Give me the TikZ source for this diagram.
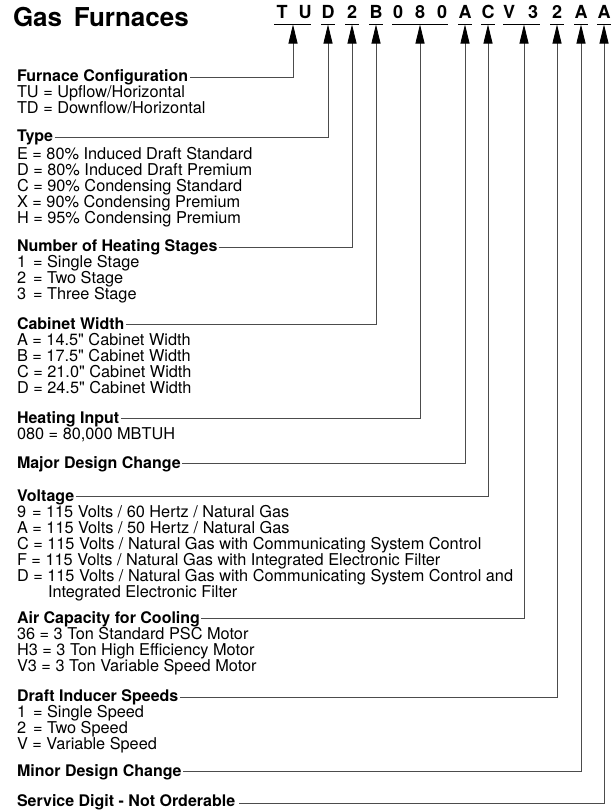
\documentclass[tikz,border=0pt]{standalone}
\usepackage{fontspec}
\setmainfont{TeX Gyre Heros}[Ligatures=TeXOff]
\usetikzlibrary{arrows.meta}
\begin{document}
\begin{tikzpicture}[x=1pt,y=-1pt,
  every node/.style={inner sep=0pt, outer sep=0pt},
  body/.style={anchor=base west, font=\fontsize{16.3}{16}\selectfont},
  head/.style={anchor=base west, font=\fontsize{16}{16}\selectfont\bfseries},
  code/.style={anchor=base, font=\fontsize{18}{18}\selectfont\bfseries},
  uline/.style={line width=0.9pt},
  lead/.style={draw=black!70, line width=0.85pt, -{Triangle[length=19pt,width=9pt,black]}}]
\useasboundingbox (0,0) rectangle (612,811);

% title
\node[anchor=base west, font=\fontsize{26}{26}\selectfont\bfseries] (title) at (13,27) {Gas\hspace{0.45em}Furnaces};

% model code
\node[code] (cT)  at (282,18) {T};
\node[code] (cU)  at (305,18) {U};
\node[code] (cD)  at (328,18) {D};
\node[code] (c2)  at (352,18) {2};
\node[code] (cB)  at (376,18) {B};
\node[code] (c0a) at (398,18) {0};
\node[code] (c8)  at (420,18) {8};
\node[code] (c0b) at (442,18) {0};
\node[code] (cA)  at (465,18) {A};
\node[code] (cC)  at (488,18) {C};
\node[code] (cV)  at (509,18) {V};
\node[code] (c3)  at (533,18) {3};
\node[code] (c2b) at (557,18) {2};
\node[code] (cAb) at (581,18) {A};
\node[code] (cAc) at (604,18) {A};

% underlines
\draw[uline] (274,24) -- (311,24);
\draw[uline] (321,24) -- (335,24);
\draw[uline] (345,24) -- (359,24);
\draw[uline] (369,24) -- (383,24);
\draw[uline] (392,24) -- (448,24);
\draw[uline] (458,24) -- (472,24);
\draw[uline] (481,24) -- (495,24);
\draw[uline] (503,24) -- (540,24);
\draw[uline] (550,24) -- (564,24);
\draw[uline] (574,24) -- (588,24);
\draw[uline] (597,24) -- (611,24);

% arrow tips
\coordinate (t1)  at (293,24.5);
\coordinate (t2)  at (328,24.5);
\coordinate (t3)  at (352,24.5);
\coordinate (t4)  at (376,24.5);
\coordinate (t5)  at (420,24.5);
\coordinate (t6)  at (465,24.5);
\coordinate (t7)  at (488,24.5);
\coordinate (t8)  at (524,24.5);
\coordinate (t9)  at (557,24.5);
\coordinate (t10) at (581,24.5);
\coordinate (t11) at (604,24.5);

% Furnace configuration
\node[head] (h1) at (17,81.5) {Furnace Configuration};
\node[body] (b1a) at (17,97.5) {TU = Upflow/Horizontal};
\node[body] (b1b) at (17,113.5) {TD = Downflow/Horizontal};

% Type
\node[head] (h2) at (17,141.7) {Type};
\node[body] (b2a) at (17,159) {E = 80\% Induced Draft Standard};
\node[body] (b2b) at (17,175) {D = 80\% Induced Draft Premium};
\node[body] (b2c) at (17,191) {C = 90\% Condensing Standard};
\node[body] (b2d) at (17,207) {X = 90\% Condensing Premium};
\node[body] (b2e) at (17,223) {H = 95\% Condensing Premium};

% Heating stages
\node[head] (h3) at (17,251.7) {Number of Heating Stages};
\node[body] (b3a) at (17,267.5) {1\hspace{7pt}= Single Stage};
\node[body] (b3b) at (17,283.5) {2\hspace{7pt}= Two Stage};
\node[body] (b3c) at (17,299.3) {3\hspace{7pt}= Three Stage};

% Cabinet width
\node[head] (h4) at (17,329.3) {Cabinet Width};
\node[body] (b4a) at (17,345) {A = 14.5" Cabinet Width};
\node[body] (b4b) at (17,361) {B = 17.5" Cabinet Width};
\node[body] (b4c) at (17,377) {C = 21.0" Cabinet Width};
\node[body] (b4d) at (17,393) {D = 24.5" Cabinet Width};

% Heating input
\node[head] (h5) at (17,423.3) {Heating Input};
\node[body] (b5a) at (17,439.3) {080 = 80,000 MBTUH};

% Major design change
\node[head] (h6) at (17,468) {Major Design Change};

% Voltage
\node[head] (h7) at (17,501) {Voltage};
\node[body] (b7a) at (17,517) {9\hspace{6pt}= 115 Volts / 60 Hertz / Natural Gas};
\node[body] (b7b) at (17,533) {A = 115 Volts / 50 Hertz / Natural Gas};
\node[body] (b7c) at (17,549) {C = 115 Volts / Natural Gas with Communicating System Control};
\node[body] (b7d) at (17,565) {F = 115 Volts / Natural Gas with Integrated Electronic Filter};
\node[body] (b7e) at (17,581) {D = 115 Volts / Natural Gas with Communicating System Control and};
\node[body] (b7f) at (48,597) {Integrated Electronic Filter};

% Air capacity
\node[head] (h8) at (17,623) {Air Capacity for Cooling};
\node[body] (b8a) at (17,639) {36 = 3 Ton Standard PSC Motor};
\node[body] (b8b) at (17,655) {H3 = 3 Ton High Efficiency Motor};
\node[body] (b8c) at (17,671) {V3 = 3 Ton Variable Speed Motor};

% Draft inducer
\node[head] (h9) at (17,701.5) {Draft Inducer Speeds};
\node[body] (b9a) at (17,717.5) {1\hspace{7pt}= Single Speed};
\node[body] (b9b) at (17,733.5) {2\hspace{7pt}= Two Speed};
\node[body] (b9c) at (17,749.5) {V = Variable Speed};

% Minor design change
\node[head] (h10) at (17,776) {Minor Design Change};

% Service digit
\node[head] (h11) at (17,806.5) {Service Digit - Not Orderable};

% leaders
\draw[lead] ([shift={(1.5,-4.5)}]h1.base east) -| (t1);
\draw[lead] ([shift={(1.5,-4.5)}]h2.base east) -| (t2);
\draw[lead] ([shift={(1.5,-4.5)}]h3.base east) -| (t3);
\draw[lead] ([shift={(1.5,-4.5)}]h4.base east) -| (t4);
\draw[lead] ([shift={(1.5,-4.5)}]h5.base east) -| (t5);
\draw[lead] ([shift={(1.5,-4.5)}]h6.base east) -| (t6);
\draw[lead] ([shift={(1.5,-4.5)}]h7.base east) -| (t7);
\draw[lead] ([shift={(1.5,-4.5)}]h8.base east) -| (t8);
\draw[lead] ([shift={(1.5,-4.5)}]h9.base east) -| (t9);
\draw[lead] ([shift={(1.5,-4.5)}]h10.base east) -| (t10);
\draw[lead] ([shift={(4,-3)}]h11.base east) -| (t11);
\end{tikzpicture}
\end{document}
